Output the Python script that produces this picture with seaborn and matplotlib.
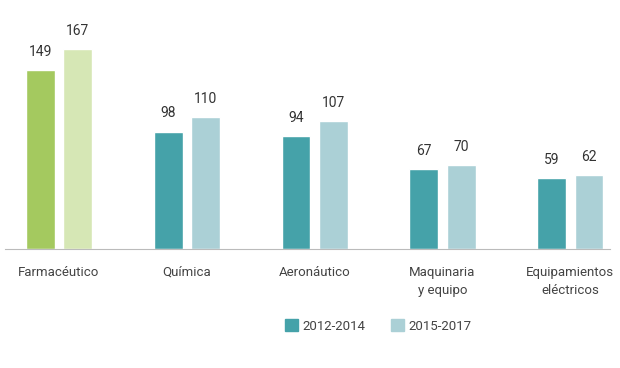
import pandas as pd
import seaborn as sns
import matplotlib.pyplot as plt
from matplotlib.patches import Patch

# datos
sectores = ["Farmacéutico", "Química", "Aeronáutico", "Maquinaria\ny equipo", "Equipamientos\neléctricos"]
periodos = ["2012-2014", "2015-2017"]
v_2012_2014 = [149, 98, 94, 67, 59]
v_2015_2017 = [167, 110, 107, 70, 62]

df = pd.DataFrame({
    "Sector": sectores * 2,
    "Periodo": [periodos[0]] * 5 + [periodos[1]] * 5,
    "Valor": v_2012_2014 + v_2015_2017,
})

sns.set_style("white")
plt.rcParams['font.family'] = ['Roboto', 'DejaVu Sans']

teal, light_blue = "#45a2a9", "#abd0d6"
green, light_green = "#a4c95f", "#d6e7b5"

fig = plt.figure(figsize=(6.2, 3.68), dpi=100)
ax = fig.add_axes([0.008, 0.323, 0.976, 0.622])

sns.barplot(data=df, x="Sector", y="Valor", hue="Periodo", order=sectores,
            hue_order=periodos, palette=[teal, light_blue], width=0.58, gap=0.22,
            saturation=1, legend=False, ax=ax)

# primer sector en verde
for i, cont in enumerate(ax.containers):
    cont.patches[0].set_facecolor(green if i == 0 else light_green)
    ax.bar_label(cont, fmt="%d", padding=8, fontsize=10, color="#333333")

ax.set_xlim(-0.42, 4.31)
ax.set_ylim(0, 190.8)
ax.set_xlabel("")
ax.set_ylabel("")
ax.set_yticks([])
for s in ["top", "right", "left"]:
    ax.spines[s].set_visible(False)
ax.spines["bottom"].set_color("#bbbbbb")
ax.tick_params(axis="x", length=0, pad=12, labelsize=9.5, labelcolor="#444444")
for lbl in ax.get_xticklabels():
    lbl.set_linespacing(1.55)

handles = [Patch(color=teal), Patch(color=light_blue)]
fig.legend(handles, periodos, loc="center", bbox_to_anchor=(0.61, 0.114), ncol=2,
           frameon=False, fontsize=9.5, handlelength=1.0, handleheight=1.0,
           handletextpad=0.3, columnspacing=2.0, labelcolor="#444444")

fig.savefig("out.png", dpi=100)
